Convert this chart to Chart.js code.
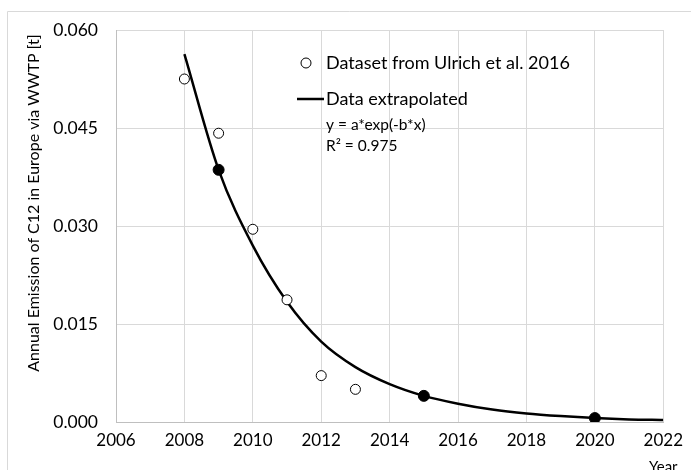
<!DOCTYPE html>
<html>
<head>
<meta charset="utf-8">
<script src="https://cdn.jsdelivr.net/npm/chart.js@4"></script>
<style>
  body { margin: 0; background: #fff; }
  canvas { display: block; }
</style>
</head>
<body>
<canvas id="chart" width="691" height="470"></canvas>
<script>
// measured points (Ulrich et al. 2016)
var dataYears = [2008, 2009, 2010, 2011, 2012, 2013];
var dataValues = [0.0525, 0.0442, 0.0295, 0.0187, 0.0071, 0.0050];

// highlighted points on the fitted curve
var markYears = [2009, 2015, 2020];
var markValues = [0.0386, 0.0040, 0.0006];

// fitted curve
var curveYears = [2008, 2009, 2010, 2011, 2012, 2013, 2014, 2015, 2016, 2017, 2018, 2019, 2020, 2021, 2022];
var curveValues = [0.0563, 0.0386, 0.0270, 0.0184, 0.0123, 0.0084, 0.0058, 0.0040, 0.0028, 0.0019, 0.0013, 0.0009, 0.0006, 0.0004, 0.0003];

var yTicks = [0, 0.015, 0.030, 0.045, 0.060];

var fontFam = 'Lato, "Open Sans", sans-serif';

function pts(xs, ys) {
    var out = [];
    for (var i = 0; i < xs.length; i++) out.push({ x: xs[i], y: ys[i] });
    return out;
}

var extras = {
    id: 'extras',
    beforeDraw: function(chart) {
        var ctx = chart.ctx;
        ctx.save();
        ctx.strokeStyle = '#d9d9d9';
        ctx.lineWidth = 1;
        ctx.beginPath();
        ctx.moveTo(7.5, 470);
        ctx.lineTo(7.5, 11.5);
        ctx.lineTo(691, 11.5);
        ctx.stroke();
        ctx.restore();
    },
    afterDraw: function(chart) {
        var ctx = chart.ctx;
        var area = chart.chartArea;
        ctx.save();
        ctx.fillStyle = '#000';
        // y axis title
        ctx.save();
        ctx.translate(34, 203);
        ctx.rotate(-Math.PI / 2);
        ctx.font = '16px ' + fontFam;
        ctx.textAlign = 'center';
        ctx.textBaseline = 'middle';
        ctx.fillText('Annual Emission of C12 in Europe via WWTP [t]', 0, 0);
        ctx.restore();
        // x axis title
        ctx.font = '15px ' + fontFam;
        ctx.textAlign = 'center';
        ctx.textBaseline = 'middle';
        ctx.fillText('Year', area.right, 467);

        // legend
        ctx.strokeStyle = '#000';
        ctx.lineWidth = 1;
        ctx.beginPath();
        ctx.arc(306, 63, 5, 0, Math.PI * 2);
        ctx.fillStyle = '#fff';
        ctx.fill();
        ctx.stroke();
        ctx.lineWidth = 2.5;
        ctx.beginPath();
        ctx.moveTo(297, 99);
        ctx.lineTo(324, 99);
        ctx.stroke();

        ctx.fillStyle = '#000';
        ctx.textAlign = 'left';
        ctx.font = '18px ' + fontFam;
        ctx.fillText('Dataset from Ulrich et al. 2016', 326, 63);
        ctx.fillText('Data extrapolated', 326, 99);
        ctx.font = '15.5px ' + fontFam;
        ctx.fillText('y = a*exp(-b*x)', 326, 125);
        ctx.fillText('R\u00B2 = 0.975', 326, 146);
        ctx.restore();
    }
};

new Chart(document.getElementById('chart').getContext('2d'), {
    type: 'scatter',
    data: {
        datasets: [{
            label: 'Data extrapolated',
            data: pts(curveYears, curveValues),
            showLine: true,
            borderColor: '#000',
            borderWidth: 2.5,
            pointRadius: 0,
            cubicInterpolationMode: 'monotone',
            order: 3
        }, {
            label: 'Dataset from Ulrich et al. 2016',
            data: pts(dataYears, dataValues),
            pointRadius: 5,
            pointBackgroundColor: '#fff',
            pointBorderColor: '#000',
            pointBorderWidth: 1,
            order: 1
        }, {
            label: 'marks',
            data: pts(markYears, markValues),
            pointRadius: 5.5,
            pointBackgroundColor: '#000',
            pointBorderColor: '#000',
            order: 2
        }]
    },
    options: {
        responsive: false,
        animation: false,
        layout: { padding: { left: 0, top: 30, right: 23, bottom: 0 } },
        plugins: {
            legend: { display: false },
            tooltip: { enabled: false }
        },
        scales: {
            x: {
                type: 'linear',
                min: 2006,
                max: 2022,
                afterFit: function(s) { s.height = 48; },
                ticks: {
                    stepSize: 2,
                    color: '#000',
                    padding: 8,
                    font: { family: fontFam, size: 17 },
                    callback: function(v) { return String(v); }
                },
                grid: { color: '#d9d9d9', drawTicks: false },
                border: { color: '#bfbfbf' }
            },
            y: {
                min: 0,
                max: 0.06,
                afterFit: function(s) { s.width = 116; },
                afterBuildTicks: function(s) {
                    s.ticks = yTicks.map(function(v) { return { value: v }; });
                },
                ticks: {
                    color: '#000',
                    padding: 18,
                    font: { family: fontFam, size: 17.5 },
                    callback: function(v) { return v.toFixed(3); }
                },
                grid: { color: '#d9d9d9', drawTicks: false },
                border: { color: '#bfbfbf' }
            }
        }
    },
    plugins: [extras]
});
</script>
</body>
</html>
